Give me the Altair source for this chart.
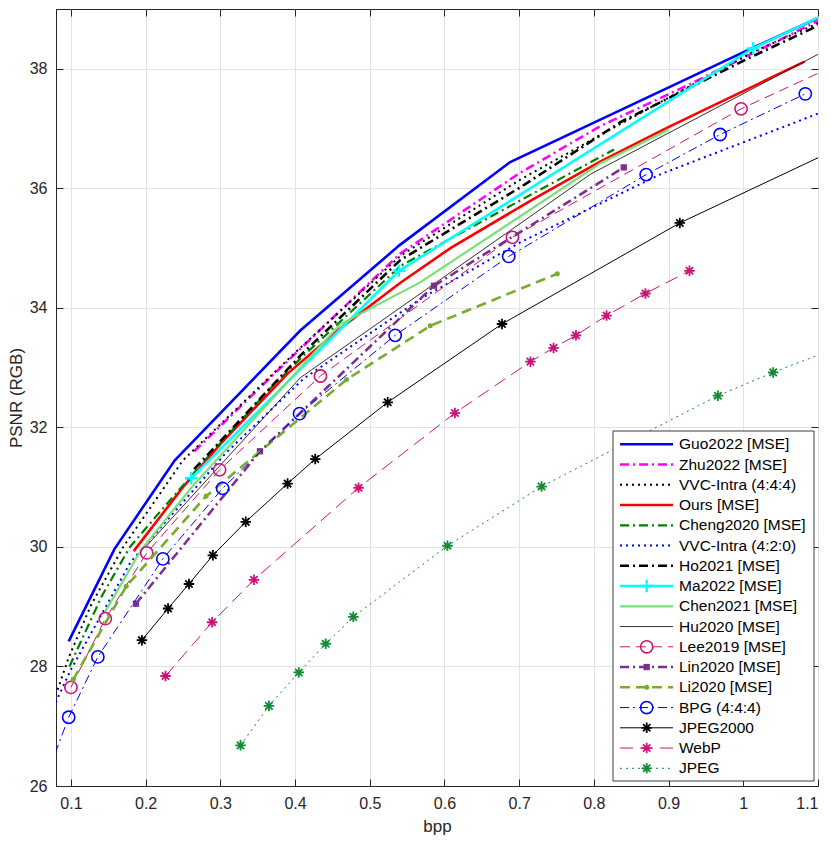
import altair as alt
import pandas as pd

# ---------------- data ----------------
names = [
    "Guo2022 [MSE]", "Zhu2022 [MSE]", "VVC-Intra (4:4:4)", "Ours [MSE]",
    "Cheng2020 [MSE]", "VVC-Intra (4:2:0)", "Ho2021 [MSE]", "Ma2022 [MSE]",
    "Chen2021 [MSE]", "Hu2020 [MSE]", "Lee2019 [MSE]", "Lin2020 [MSE]",
    "Li2020 [MSE]", "BPG (4:4:4)", "JPEG2000", "WebP", "JPEG",
]

guo_x = [0.097, 0.158, 0.239, 0.407, 0.54, 0.688, 1.011, 1.1]
guo_y = [28.42, 29.96, 31.45, 33.62, 35.05, 36.44, 38.34, 38.85]

zhu_x = [0.265, 0.36, 0.41, 0.54, 0.70, 0.81, 0.925, 1.1]
zhu_y = [31.6, 32.75, 33.35, 34.9, 36.25, 37.05, 37.72, 38.8]

vvc444_x = [0.06, 0.08, 0.097, 0.127, 0.17, 0.25, 0.40, 0.541, 0.702, 0.836, 1.011, 1.1]
vvc444_y = [26.75, 27.53, 28.15, 29.03, 30.0, 31.45, 33.25, 34.87, 36.15, 37.08, 38.27, 38.76]

ours_x = [0.184, 0.25, 0.30, 0.39, 0.46, 0.541, 0.608, 0.719, 0.809, 0.899, 1.082]
ours_y = [29.93, 31.0, 31.72, 32.9, 33.65, 34.42, 35.0, 35.82, 36.45, 37.02, 38.12]

cheng_x = [0.098, 0.141, 0.179, 0.22, 0.29, 0.366, 0.407, 0.541, 0.702, 0.827]
cheng_y = [28.0, 29.17, 30.0, 30.6, 31.6, 32.64, 33.15, 34.7, 35.8, 36.65]

vvc420_x = [0.06, 0.08, 0.10, 0.14, 0.18, 0.308, 0.411, 0.568, 0.702, 0.89, 1.1]
vvc420_y = [26.85, 27.41, 27.95, 28.85, 29.75, 31.58, 32.81, 34.15, 35.1, 36.24, 37.25]

ho_x = [0.265, 0.407, 0.541, 0.702, 0.836, 1.011, 1.1]
ho_y = [31.3, 33.2, 34.8, 36.02, 37.11, 38.2, 38.72]

ma_x = [0.261, 0.539, 1.013, 1.2]
ma_y = [31.15, 34.62, 38.34, 39.45]

chen_x = [0.145, 0.194, 0.263, 0.46, 0.568, 0.809, 0.9]
chen_y = [28.9, 29.95, 31.02, 33.72, 34.43, 36.42, 36.98]

hu_x = [0.2, 0.407, 0.796, 1.2]
hu_y = [30.0, 32.83, 36.24, 38.9]

lee_x = [0.1, 0.146, 0.2015, 0.299, 0.434, 0.691, 0.997, 1.2]
lee_y = [27.65, 28.8, 29.9, 31.29, 32.86, 35.18, 37.33, 38.5]

lin_x = [0.187, 0.353, 0.586, 0.84]
lin_y = [29.05, 31.6, 34.37, 36.35]

li_x = [0.103, 0.174, 0.281, 0.469, 0.581, 0.751]
li_y = [27.78, 29.34, 30.85, 32.8, 33.7, 34.57]

bpg_x = [0.07, 0.097, 0.136, 0.223, 0.303, 0.406, 0.534, 0.686, 0.87, 0.969, 1.083]
bpg_y = [26.25, 27.15, 28.16, 29.8, 30.98, 32.23, 33.54, 34.86, 36.23, 36.9, 37.58]

j2k_x = [0.195, 0.23, 0.258, 0.29, 0.334, 0.39, 0.427, 0.524, 0.677, 0.915, 1.2]
j2k_y = [28.44, 28.97, 29.38, 29.86, 30.42, 31.06, 31.47, 32.42, 33.73, 35.42, 37.1]

webp_x = [0.2266, 0.289, 0.345, 0.485, 0.614, 0.715, 0.746, 0.776, 0.817, 0.869, 0.928]
webp_y = [27.84, 28.74, 29.45, 30.99, 32.24, 33.1, 33.33, 33.54, 33.87, 34.24, 34.62]

jpeg_x = [0.327, 0.365, 0.405, 0.441, 0.478, 0.604, 0.73, 0.966, 1.04, 1.15]
jpeg_y = [26.68, 27.34, 27.9, 28.38, 28.83, 30.02, 31.01, 32.53, 32.92, 33.45]

series_x = [guo_x, zhu_x, vvc444_x, ours_x, cheng_x, vvc420_x, ho_x, ma_x, chen_x,
            hu_x, lee_x, lin_x, li_x, bpg_x, j2k_x, webp_x, jpeg_x]
series_y = [guo_y, zhu_y, vvc444_y, ours_y, cheng_y, vvc420_y, ho_y, ma_y, chen_y,
            hu_y, lee_y, lin_y, li_y, bpg_y, j2k_y, webp_y, jpeg_y]

x_ticks = [0.1, 0.2, 0.3, 0.4, 0.5, 0.6, 0.7, 0.8, 0.9, 1.0, 1.1]
y_ticks = [26, 28, 30, 32, 34, 36, 38]

# ---------------- styles ----------------
AST = "M-1,0L1,0M0,-1L0,1M-0.7,-0.7L0.7,0.7M-0.7,0.7L0.7,-0.7"
PLUS = "M-1,0L1,0M0,-1L0,1"
DD = [9, 4, 2, 4]
styles = [
    dict(color="#0000FF", dash=None, w=2.6, m=None),
    dict(color="#FF00FF", dash=DD, w=2.6, m=None),
    dict(color="#000000", dash=[2, 4], w=2.0, m=None),
    dict(color="#FF0000", dash=None, w=2.6, m=None),
    dict(color="#008000", dash=DD, w=2.2, m=None),
    dict(color="#0000FF", dash=[2, 4], w=2.0, m=None),
    dict(color="#000000", dash=DD, w=2.6, m=None),
    dict(color="#00FFFF", dash=None, w=2.6, m=dict(shape=PLUS, size=160, filled=False, sw=2.4)),
    dict(color="#78E078", dash=None, w=2.2, m=None),
    dict(color="#1a1a1a", dash=None, w=0.9, m=None),
    dict(color="#CC1478", dash=[10, 6], w=1.0, m=dict(shape="circle", size=150, filled=False, sw=1.6)),
    dict(color="#7E2F8E", dash=DD, w=2.6, m=dict(shape="square", size=40, filled=True, sw=1)),
    dict(color="#77AC30", dash=[10, 6], w=2.6, m=dict(shape="circle", size=25, filled=True, sw=1)),
    dict(color="#0000FF", dash=[9, 4, 2, 4], w=1.0, m=dict(shape="circle", size=150, filled=False, sw=1.6)),
    dict(color="#000000", dash=None, w=1.0, m=dict(shape=AST, size=110, filled=False, sw=1.8)),
    dict(color="#CC1478", dash=[13, 7], w=1.0, m=dict(shape=AST, size=110, filled=False, sw=1.8)),
    dict(color="#138A36", dash=[2, 4], w=1.0, m=dict(shape=AST, size=110, filled=False, sw=1.8)),
]

W, H = 762, 777
FONT = "Liberation Sans"
INK = "#262626"

xscale = alt.Scale(domain=[0.08, 1.1], nice=False, zero=False)
yscale = alt.Scale(domain=[26, 39], nice=False, zero=False)

main_x = alt.Axis(orient="bottom", values=x_ticks, format="~g", grid=True, ticks=False,
                  title="bpp", labelPadding=9, titlePadding=7, labelFontSize=16,
                  titleFontSize=17, labelFont=FONT, titleFont=FONT, titleFontWeight="normal",
                  gridColor="#E3E3E3", domainColor=INK, labelColor=INK, titleColor=INK)
main_y = alt.Axis(orient="left", values=y_ticks, grid=True, ticks=False,
                  title="PSNR (RGB)", labelPadding=9, titlePadding=4, labelFontSize=16,
                  titleFontSize=17, labelFont=FONT, titleFont=FONT, titleFontWeight="normal",
                  gridColor="#E3E3E3", domainColor=INK, labelColor=INK, titleColor=INK)
tick_bx = alt.Axis(orient="top", offset=-H, values=x_ticks, labels=False, grid=False,
                   domain=False, ticks=True, tickSize=7, tickColor=INK, title="")
tick_ly = alt.Axis(orient="right", offset=-W, values=y_ticks, labels=False, grid=False,
                   domain=False, ticks=True, tickSize=7, tickColor=INK, title="")
tick_tx = alt.Axis(orient="bottom", offset=-H, values=x_ticks, labels=False, grid=False,
                   domain=False, ticks=True, tickSize=7, tickColor=INK, title="")
tick_ry = alt.Axis(orient="left", offset=-W, values=y_ticks, labels=False, grid=False,
                   domain=False, ticks=True, tickSize=7, tickColor=INK, title="")

axes_for = {0: (main_x, main_y), 1: (tick_bx, tick_ly), 2: (tick_tx, tick_ry)}

layers = []
for i, name in enumerate(names):
    st = styles[i]
    df = pd.DataFrame({"x": series_x[i], "y": series_y[i]})
    ax = axes_for.get(i, (None, None))
    kw = dict(color=st["color"], strokeWidth=st["w"], clip=True)
    if st["dash"]:
        kw["strokeDash"] = st["dash"]
    line = alt.Chart(df).mark_line(**kw).encode(
        x=alt.X("x:Q", scale=xscale, axis=ax[0]),
        y=alt.Y("y:Q", scale=yscale, axis=ax[1]),
        order=alt.Order("x:Q"),
    )
    layers.append(line)
    m = st["m"]
    if m:
        pk = dict(shape=m["shape"], size=m["size"], filled=m["filled"], clip=True,
                  strokeWidth=m["sw"], opacity=1)
        if m["filled"]:
            pk["fill"] = st["color"]
        else:
            pk["stroke"] = st["color"]
        pts = alt.Chart(df).mark_point(**pk).encode(
            x=alt.X("x:Q", scale=xscale, axis=None),
            y=alt.Y("y:Q", scale=yscale, axis=None),
        )
        layers.append(pts)

# ---------------- legend (inside, lower right) ----------------
leg = pd.DataFrame({"name": names, "row": list(range(len(names)))})
leg_scale = alt.Scale(domain=[0, 16], range=[435.3, 759.3])

box = alt.Chart(pd.DataFrame({"k": [0]})).mark_rect(
    fill="white", stroke=INK, strokeWidth=0.9
).encode(x=alt.value(557), x2=alt.value(758), y=alt.value(422), y2=alt.value(772))
layers.append(box)

for i, name in enumerate(names):
    st = styles[i]
    sub = leg[leg["name"] == name]
    kw = dict(color=st["color"], strokeWidth=st["w"])
    if st["dash"]:
        kw["strokeDash"] = st["dash"]
    layers.append(alt.Chart(sub).mark_rule(**kw).encode(
        x=alt.value(564), x2=alt.value(617),
        y=alt.Y("row:Q", scale=leg_scale, axis=None)))
    m = st["m"]
    if m:
        pk = dict(shape=m["shape"], size=m["size"], filled=m["filled"],
                  strokeWidth=m["sw"], opacity=1)
        if m["filled"]:
            pk["fill"] = st["color"]
        else:
            pk["stroke"] = st["color"]
        layers.append(alt.Chart(sub).mark_point(**pk).encode(
            x=alt.value(590.7), y=alt.Y("row:Q", scale=leg_scale, axis=None)))

layers.append(alt.Chart(leg).mark_text(
    align="left", baseline="middle", fontSize=15.5, font=FONT, color="#000000"
).encode(x=alt.value(623), y=alt.Y("row:Q", scale=leg_scale, axis=None), text="name:N"))

chart = alt.layer(*layers).resolve_scale(
    x="independent", y="independent"
).properties(
    width=W, height=H,
    autosize=alt.AutoSizeParams(type="none"),
    padding={"left": 48, "top": 1, "right": 5, "bottom": 56},
    background="white",
).configure_view(stroke=INK, strokeWidth=1)

chart.save("out.html", embed_options={"renderer": "svg", "actions": False})
